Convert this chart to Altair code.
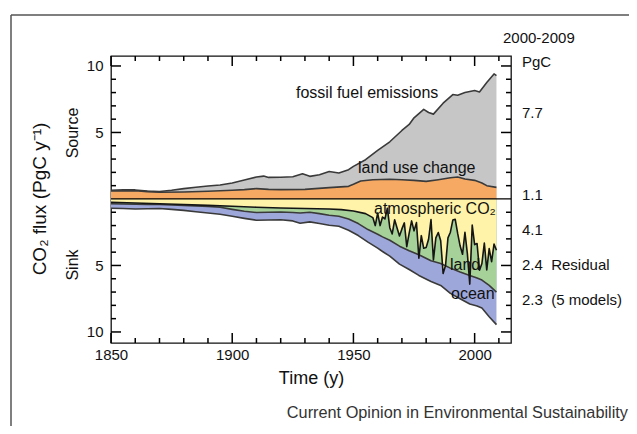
import altair as alt
import pandas as pd

FONT = "Liberation Sans"

# ---------------- data ----------------
src_years = [1850, 1855, 1860, 1865, 1870, 1875, 1880, 1885, 1890, 1895, 1900, 1905, 1910, 1913,
             1915, 1920, 1925, 1929, 1932, 1936, 1940, 1944, 1948, 1950, 1955, 1960, 1965, 1970,
             1973, 1975, 1979, 1981, 1983, 1987, 1991, 1993, 1996, 2000, 2002, 2005, 2008, 2009]
total_source = [0.66, 0.68, 0.68, 0.6, 0.56, 0.65, 0.78, 0.88, 0.98, 1.05, 1.2, 1.42, 1.65, 1.72,
                1.62, 1.63, 1.67, 1.9, 1.7, 1.82, 2.07, 1.95, 2.2, 2.45, 2.95, 3.65, 4.3, 5.15,
                5.6, 6.1, 6.74, 6.5, 6.38, 7.2, 7.85, 7.8, 8.0, 8.15, 8.05, 8.75, 9.4, 9.27]

luc_years = [1850, 1860, 1865, 1870, 1880, 1890, 1900, 1905, 1910, 1915, 1920, 1930, 1940, 1948,
             1950, 1953, 1958, 1965, 1970, 1975, 1980, 1985, 1990, 1993, 1996, 2000, 2003, 2005, 2009]
luc_top = [0.6, 0.62, 0.55, 0.5, 0.52, 0.58, 0.65, 0.7, 0.78, 0.72, 0.7, 0.72, 0.85, 0.95,
           1.1, 1.35, 1.45, 1.48, 1.45, 1.4, 1.32, 1.45, 1.6, 1.65, 1.5, 1.4, 1.2, 1.0, 0.87]

atm_years = [1850, 1860, 1870, 1880, 1890, 1900, 1910, 1920, 1930, 1940, 1945, 1950, 1955, 1958] + list(range(1959, 2010))
atm_growth = [0.25, 0.3, 0.36, 0.42, 0.48, 0.55, 0.62, 0.68, 0.72, 0.75, 0.8, 0.9, 1.1, 1.4,
              2.0, 1.06, 2.0, 1.36, 1.5, 0.7, 2.16, 2.63, 1.57, 2.18, 2.78, 2.25, 1.8, 3.58,
              2.57, 1.65, 2.4, 1.78, 4.45, 2.76, 3.71, 3.65, 3.03, 1.55, 4.58, 2.93, 2.52, 3.14,
              5.6, 5.0, 2.93, 2.5, 1.59, 1.53, 2.59, 3.52, 4.16, 2.5, 4.11, 6.4, 1.97, 3.43,
              3.35, 5.36, 4.85, 3.31, 5.34, 3.73, 4.71, 3.39, 3.85]

sink_years = [1850, 1855, 1860, 1865, 1870, 1875, 1880, 1885, 1890, 1895, 1900, 1905, 1910, 1915,
              1920, 1925, 1928, 1932, 1936, 1940, 1944, 1948, 1952, 1956, 1960, 1962, 1965, 1969,
              1973, 1977, 1982, 1986, 1990, 1994, 1998, 2001, 2003, 2006, 2009]
land_bottom = [0.36, 0.38, 0.4, 0.42, 0.42, 0.45, 0.48, 0.52, 0.56, 0.62, 0.78, 0.92, 1.02, 1.0,
               0.98, 1.02, 1.05, 1.0, 1.1, 1.22, 1.3, 1.5, 1.85, 2.3, 2.65, 2.85, 3.1, 3.55,
               3.9, 4.2, 4.65, 4.85, 5.2, 5.5, 5.75, 5.95, 6.1, 6.5, 7.0]
ocean_bottom = [0.7, 0.72, 0.75, 0.74, 0.72, 0.78, 0.86, 0.96, 1.05, 1.15, 1.3, 1.46, 1.6, 1.58,
                1.56, 1.65, 1.82, 1.72, 1.84, 1.98, 2.05, 2.35, 2.75, 3.25, 3.7, 3.95, 4.3, 4.9,
                5.3, 5.75, 6.2, 6.5, 7.1, 7.5, 7.9, 8.05, 8.2, 8.85, 9.45]

x_label_years = [1850, 1900, 1950, 2000]
x_major_ticks = [1850, 1900, 1950, 2000]
x_minor_ticks = [1860, 1870, 1880, 1890, 1910, 1920, 1930, 1940, 1960, 1970, 1980, 1990, 2010]
y_label_values = [-10, -5, 5, 10]
y_major_ticks = [-10, -5, 5, 10]
y_minor_ticks = [-9, -8, -7, -6, -4, -3, -2, -1, 1, 2, 3, 4, 6, 7, 8, 9]

budget_labels = ["PgC", "7.7", "1.1", "4.1", "2.4\u00a0\u00a0Residual", "2.3\u00a0\u00a0(5 models)"]

# ---------------- chart ----------------
W, H = 400, 287
X0, X1 = 1850, 2015
Y0, Y1 = -10.83, 10.75
xs = alt.Scale(domain=[X0, X1], nice=False, zero=False)
ys = alt.Scale(domain=[Y0, Y1], nice=False, zero=False)

x_axis = alt.Axis(values=x_label_years, ticks=False, domain=False, grid=False, format="d",
                  labelFontSize=15, labelPadding=4, labelColor="#111", labelFlush=False,
                  title="Time (y)", titleFontSize=18, titleFontWeight="normal",
                  titlePadding=7, titleColor="#111")
y_axis = alt.Axis(values=y_label_values, labelExpr="abs(datum.value)", ticks=False, domain=False,
                  grid=False, labelFontSize=15, labelPadding=8, labelColor="#111",
                  labelFlush=False, title=None)

X = alt.X("year:Q", scale=xs, axis=x_axis)
Y = alt.Y("v:Q", scale=ys, axis=y_axis)
Xp = alt.X("year:Q", scale=xs)
Yp = alt.Y("v:Q", scale=ys)

GRAY, ORANGE, YELLOW, GREEN, BLUE = "#c6c6c6", "#f6a963", "#fef3a8", "#a6d199", "#9ea7da"
LINE = "#3a3a3a"


def df(years, vals, sign=1):
    return pd.DataFrame({"year": years, "v": [sign * v for v in vals]})


src_df = df(src_years, total_source)
luc_df = df(luc_years, luc_top)
atm_df = df(atm_years, atm_growth, -1)
land_df = df(sink_years, land_bottom, -1)
ocean_df = df(sink_years, ocean_bottom, -1)

layers = []
layers.append(alt.Chart(src_df).mark_area(color=GRAY).encode(x=X, y=Y, y2=alt.datum(0)))
layers.append(alt.Chart(luc_df).mark_area(color=ORANGE).encode(x=X, y=Y, y2=alt.datum(0)))
layers.append(alt.Chart(ocean_df).mark_area(color=BLUE).encode(x=X, y=Y, y2=alt.datum(0)))
layers.append(alt.Chart(land_df).mark_area(color=GREEN).encode(x=X, y=Y, y2=alt.datum(0)))
layers.append(alt.Chart(atm_df).mark_area(color=YELLOW).encode(x=X, y=Y, y2=alt.datum(0)))

for d, col in [(src_df, LINE), (luc_df, LINE), (land_df, LINE), (ocean_df, LINE), (atm_df, "#151515")]:
    layers.append(alt.Chart(d).mark_line(color=col, strokeWidth=1.6, strokeJoin="round").encode(x=X, y=Y))

layers.append(alt.Chart(pd.DataFrame({"v": [0]})).mark_rule(color="#000", strokeWidth=1.3).encode(y=Y))

# inward ticks: tick marks placed by the scales, centred just inside each frame edge
TK = "#000000"
xt_major = pd.DataFrame({"year": x_major_ticks})
xt_minor = pd.DataFrame({"year": x_minor_ticks})
yt_major = pd.DataFrame({"v": y_major_ticks})
yt_minor = pd.DataFrame({"v": y_minor_ticks})
for tdf, ln in [(xt_major, 10), (xt_minor, 5)]:
    layers.append(alt.Chart(tdf).mark_tick(color=TK, size=ln, thickness=1.5, opacity=1).encode(
        x=Xp, y=alt.value(ln / 2)))
    layers.append(alt.Chart(tdf).mark_tick(color=TK, size=ln, thickness=1.5, opacity=1).encode(
        x=Xp, y=alt.value(H - ln / 2)))
for tdf, ln in [(yt_major, 10), (yt_minor, 5)]:
    layers.append(alt.Chart(tdf).mark_rule(color=TK, strokeWidth=1.5).encode(
        y=Yp, x=alt.value(0), x2=alt.value(ln)))
    layers.append(alt.Chart(tdf).mark_rule(color=TK, strokeWidth=1.5).encode(
        y=Yp, x=alt.value(W - ln), x2=alt.value(W)))


def label(text, x, y, size=16, align="left", angle=0, color="#111"):
    kw = dict(fontSize=size, align=align, baseline="middle", color=color, font=FONT)
    if angle:
        kw["angle"] = angle
    return alt.Chart(pd.DataFrame({"t": [text]})).mark_text(**kw).encode(
        x=alt.value(x), y=alt.value(y), text="t:N")


layers.append(label("fossil fuel emissions", 185, 37))
layers.append(label("land use change", 247, 112))
layers.append(label("atmospheric CO\u2082", 263, 153))
layers.append(label("land", 339, 209))
layers.append(label("ocean", 340, 238))

layers.append(label("CO\u2082 flux (PgC y\u207b\u00b9)", -71, 143, size=19, align="center", angle=270))
layers.append(label("Source", -38, 77, size=16, align="center", angle=270))
layers.append(label("Sink", -38, 209, size=16, align="center", angle=270))

layers.append(label("2000-2009", 392, -18, size=15))
for txt, yy in zip(budget_labels, [6, 57, 139, 174, 209, 244]):
    layers.append(label(txt, 411, yy, size=15))

layers.append(label("Current Opinion in Environmental Sustainability", 517, 357, size=16.3,
                    align="right", color="#333"))

layers.append(alt.Chart(pd.DataFrame({"a": [0]})).mark_rule(color="#555", strokeWidth=1.5).encode(
    x=alt.value(-100), x2=alt.value(520), y=alt.value(-41)))
layers.append(alt.Chart(pd.DataFrame({"a": [0]})).mark_rule(color="#555", strokeWidth=1.5).encode(
    x=alt.value(-100), y=alt.value(-41), y2=alt.value(372)))

chart = alt.layer(*layers).properties(
    width=W, height=H,
    autosize=alt.AutoSizeParams(type="none"),
    padding={"left": 103, "top": 48, "right": 118, "bottom": 83},
).configure_view(stroke="#111", strokeWidth=1.3).configure_axis(
    labelFont=FONT, titleFont=FONT, titleFontWeight="normal"
).configure_text(font=FONT)

chart.save("out.html", embed_options={"renderer": "svg", "actions": False})
